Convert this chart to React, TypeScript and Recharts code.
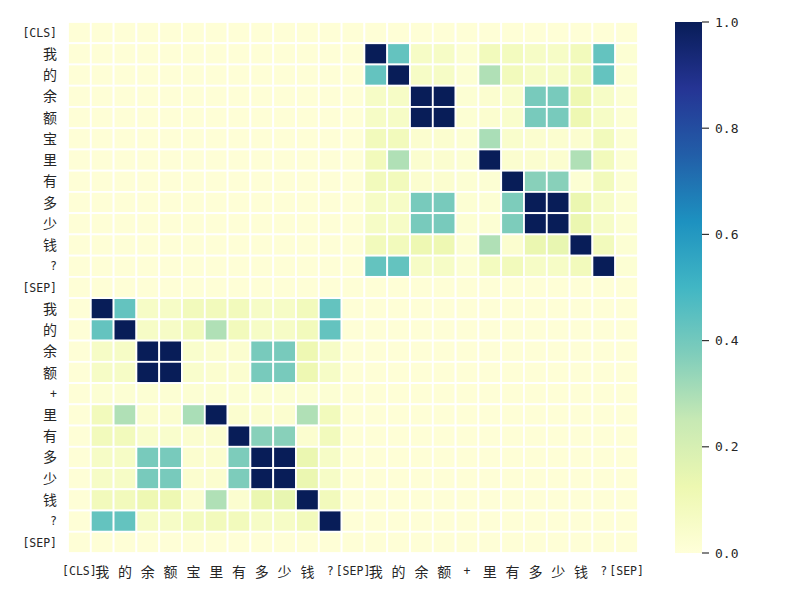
import React from 'react';
import { ScatterChart, Scatter, XAxis, YAxis, BarChart, Bar } from 'recharts';

// tokens of the two sentences (rows and columns share them)
const TOKENS = ['[CLS]', '我', '的', '余', '额', '宝', '里', '有', '多', '少', '钱', '?', '[SEP]',
  '我', '的', '余', '额', '+', '里', '有', '多', '少', '钱', '?', '[SEP]'];

// attention weights, one array per row token
const ATTENTION: number[][] = [
  [.01, .01, .01, .01, .01, .01, .01, .01, .01, .01, .01, .01, .01, .01, .01, .01, .01, .01, .01, .01, .01, .01, .01, .01, .01],
  [.01, .01, .01, .01, .01, .01, .01, .01, .01, .01, .01, .01, .01, 1.0, .43, .06, .06, .02, .09, .08, .06, .06, .09, .43, .02],
  [.01, .01, .01, .01, .01, .01, .01, .01, .01, .01, .01, .01, .01, .43, 1.0, .06, .06, .02, .29, .09, .06, .06, .09, .43, .02],
  [.01, .01, .01, .01, .01, .01, .01, .01, .01, .01, .01, .01, .01, .06, .06, 1.0, 1.0, .02, .03, .04, .39, .39, .12, .06, .02],
  [.01, .01, .01, .01, .01, .01, .01, .01, .01, .01, .01, .01, .01, .06, .06, 1.0, 1.0, .02, .03, .04, .39, .39, .12, .06, .02],
  [.01, .01, .01, .01, .01, .01, .01, .01, .01, .01, .01, .01, .01, .09, .09, .03, .03, .02, .30, .04, .03, .03, .03, .09, .02],
  [.01, .01, .01, .01, .01, .01, .01, .01, .01, .01, .01, .01, .01, .09, .29, .03, .03, .02, 1.0, .03, .03, .03, .29, .09, .02],
  [.01, .01, .01, .01, .01, .01, .01, .01, .01, .01, .01, .01, .01, .09, .09, .03, .03, .02, .02, 1.0, .36, .36, .02, .09, .02],
  [.01, .01, .01, .01, .01, .01, .01, .01, .01, .01, .01, .01, .01, .06, .06, .39, .39, .02, .02, .38, 1.0, 1.0, .13, .06, .02],
  [.01, .01, .01, .01, .01, .01, .01, .01, .01, .01, .01, .01, .01, .06, .06, .39, .39, .02, .02, .38, 1.0, 1.0, .13, .06, .02],
  [.01, .01, .01, .01, .01, .01, .01, .01, .01, .01, .01, .01, .01, .09, .09, .12, .12, .02, .29, .03, .13, .14, 1.0, .09, .02],
  [.01, .01, .01, .01, .01, .01, .01, .01, .01, .01, .01, .01, .01, .43, .43, .06, .06, .02, .08, .09, .06, .06, .09, 1.0, .02],
  [.01, .01, .01, .01, .01, .01, .01, .01, .01, .01, .01, .01, .01, .01, .01, .01, .01, .01, .01, .01, .01, .01, .01, .01, .01],
  [.01, 1.0, .43, .06, .06, .09, .09, .09, .06, .06, .09, .43, .01, .01, .01, .01, .01, .01, .01, .01, .01, .01, .01, .01, .01],
  [.01, .43, 1.0, .06, .06, .09, .29, .09, .06, .06, .09, .43, .01, .01, .01, .01, .01, .01, .01, .01, .01, .01, .01, .01, .01],
  [.01, .06, .06, 1.0, 1.0, .04, .03, .03, .39, .39, .12, .06, .01, .01, .01, .01, .01, .01, .01, .01, .01, .01, .01, .01, .01],
  [.01, .06, .06, 1.0, 1.0, .04, .03, .03, .39, .39, .12, .06, .01, .01, .01, .01, .01, .01, .01, .01, .01, .01, .01, .01, .01],
  [.01, .02, .02, .02, .02, .02, .02, .02, .02, .02, .02, .02, .01, .01, .01, .01, .01, .01, .01, .01, .01, .01, .01, .01, .01],
  [.01, .09, .29, .03, .03, .30, 1.0, .03, .03, .03, .29, .09, .01, .01, .01, .01, .01, .01, .01, .01, .01, .01, .01, .01, .01],
  [.01, .09, .09, .04, .04, .03, .03, 1.0, .36, .36, .03, .09, .01, .01, .01, .01, .01, .01, .01, .01, .01, .01, .01, .01, .01],
  [.01, .06, .06, .39, .39, .03, .03, .38, 1.0, 1.0, .13, .06, .01, .01, .01, .01, .01, .01, .01, .01, .01, .01, .01, .01, .01],
  [.01, .06, .06, .39, .39, .03, .03, .38, 1.0, 1.0, .13, .06, .01, .01, .01, .01, .01, .01, .01, .01, .01, .01, .01, .01, .01],
  [.01, .09, .09, .12, .12, .03, .29, .03, .13, .14, 1.0, .09, .01, .01, .01, .01, .01, .01, .01, .01, .01, .01, .01, .01, .01],
  [.01, .43, .43, .06, .06, .08, .09, .09, .06, .06, .09, 1.0, .01, .01, .01, .01, .01, .01, .01, .01, .01, .01, .01, .01, .01],
  [.01, .01, .01, .01, .01, .01, .01, .01, .01, .01, .01, .01, .01, .01, .01, .01, .01, .01, .01, .01, .01, .01, .01, .01, .01],
];

const CBAR_TICKS = [0, 0.2, 0.4, 0.6, 0.8, 1.0];

// YlGnBu anchor colours
const YLGNBU = ['#ffffd9', '#edf8b1', '#c7e9b4', '#7fcdbb', '#41b6c4', '#1d91c0', '#225ea8', '#253494', '#081d58'];

const hexToRgb = (h: string) => [1, 3, 5].map((i) => parseInt(h.slice(i, i + 2), 16));

const ylgnbu = (v: number) => {
  const t = Math.max(0, Math.min(1, v)) * (YLGNBU.length - 1);
  const i = Math.min(Math.floor(t), YLGNBU.length - 2);
  const f = t - i;
  const a = hexToRgb(YLGNBU[i]);
  const b = hexToRgb(YLGNBU[i + 1]);
  const c = a.map((x, k) => Math.round(x + (b[k] - x) * f));
  return `rgb(${c[0]},${c[1]},${c[2]})`;
};

const W = 800;
const H = 600;
const MARGIN = { top: 22, right: 162, bottom: 0, left: 0 };
const Y_AXIS_W = 68;
const X_AXIS_H = 47;
const N = TOKENS.length;
const CELL_W = (W - MARGIN.left - MARGIN.right - Y_AXIS_W) / N;
const CELL_H = (H - MARGIN.top - MARGIN.bottom - X_AXIS_H) / N;

const FONT = '"DejaVu Sans Mono", "Noto Sans CJK SC", monospace';
const TEXT_COLOR = '#262626';

// latin tokens are set smaller so they take about half the width of a CJK glyph
const tokenSize = (t: string) => (/^[\x00-\x7f]+$/.test(t) ? 11.5 : 14);

const TokenTick = (props: any) => {
  const { x, y, payload, axis } = props;
  const label = TOKENS[Math.floor(payload.value)];
  if (axis === 'x') {
    return (
      <text x={x} y={y} dy="0.8em" textAnchor="middle" fill={TEXT_COLOR} fontSize={tokenSize(label)} fontFamily={FONT}>
        {label}
      </text>
    );
  }
  return (
    <text x={x} y={y} dy="0.36em" textAnchor="end" fill={TEXT_COLOR} fontSize={tokenSize(label)} fontFamily={FONT}>
      {label}
    </text>
  );
};

const cells = ATTENTION.flatMap((row, r) => row.map((v, c) => ({ x: c + 0.5, y: r + 0.5, v })));
const tickPos = TOKENS.map((_, i) => i + 0.5);

const HeatCell = (props: any) => {
  const { cx, cy, payload } = props;
  return (
    <rect
      x={cx - CELL_W / 2}
      y={cy - CELL_H / 2}
      width={CELL_W}
      height={CELL_H}
      fill={ylgnbu(payload.v)}
      stroke="#ffffff"
      strokeWidth={1.8}
    />
  );
};

const App: React.FC = () => {
  return (
    <div style={{ position: 'absolute', left: 0, top: 0, width: W, height: H, background: '#fff' }}>
      <ScatterChart width={W} height={H} margin={MARGIN}>
        <XAxis
          type="number"
          dataKey="x"
          domain={[0, N]}
          ticks={tickPos}
          interval={0}
          axisLine={false}
          tickLine={false}
          tickSize={0}
          tickMargin={13}
          height={X_AXIS_H}
          tick={<TokenTick axis="x" />}
        />
        <YAxis
          type="number"
          dataKey="y"
          domain={[0, N]}
          reversed
          ticks={tickPos}
          interval={0}
          axisLine={false}
          tickLine={false}
          tickSize={0}
          tickMargin={11}
          width={Y_AXIS_W}
          tick={<TokenTick axis="y" />}
        />
        <Scatter data={cells} shape={HeatCell} isAnimationActive={false} />
      </ScatterChart>

      <div style={{ position: 'absolute', left: 675, top: 0 }}>
        <BarChart
          width={125}
          height={H}
          data={[{ name: 'scale', v: 1 }]}
          margin={{ top: 22, right: 0, bottom: 47, left: 0 }}
          barCategoryGap={0}
        >
          <defs>
            <linearGradient id="ylgnbu" x1="0" y1="1" x2="0" y2="0">
              {YLGNBU.map((c, i) => (
                <stop key={c} offset={i / (YLGNBU.length - 1)} stopColor={c} />
              ))}
            </linearGradient>
          </defs>
          <XAxis dataKey="name" hide />
          <YAxis
            orientation="right"
            type="number"
            domain={[0, 1]}
            ticks={CBAR_TICKS}
            interval={0}
            tickFormatter={(v: number) => v.toFixed(1)}
            axisLine={false}
            tickLine={{ stroke: '#333', strokeWidth: 1.2 }}
            tickSize={7}
            tickMargin={6}
            width={98}
            tick={{ fill: TEXT_COLOR, fontSize: 13, fontFamily: FONT }}
          />
          <Bar dataKey="v" fill="url(#ylgnbu)" isAnimationActive={false} />
        </BarChart>
      </div>
    </div>
  );
};

export default App;
